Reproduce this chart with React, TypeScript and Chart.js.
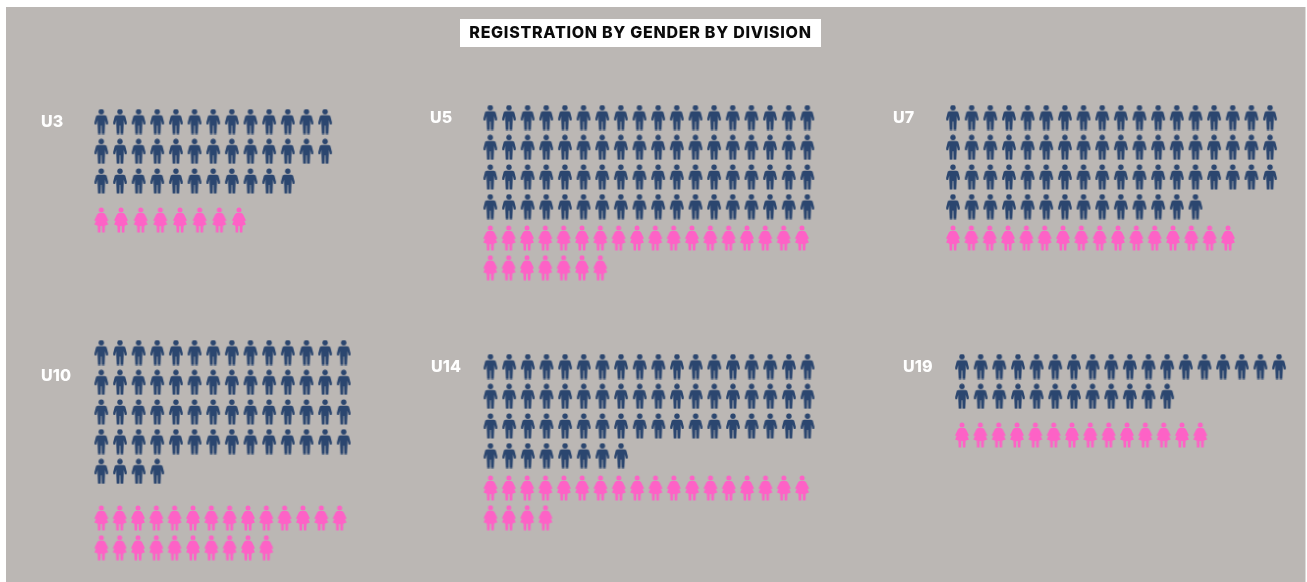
import React, { useEffect, useRef } from "react";
import { Chart, registerables } from "chart.js";

Chart.register(...registerables);

// ---- data ----
const titleText = "REGISTRATION BY GENDER BY DIVISION";
const divisions = ["U3", "U5", "U7", "U10", "U14", "U19"];
const boys = [37, 72, 68, 60, 62, 30];
const girls = [8, 25, 16, 24, 22, 14];
const boysPerRow = [13, 18, 18, 14, 18, 18];
const girlsPerRow = [8, 18, 18, 14, 18, 18];

// ---- layout (axis units, one unit is one pixel of the canvas) ----
const originX = [101.3, 490.3, 953, 101.3, 490.5, 962];
const boyTop = [121.5, 117.5, 117.5, 352.5, 366.5, 366.5];
const girlTop = [220, 238, 238, 518, 488, 435];
const girlPitch = [19.67, 18.33, 18.33, 18.33, 18.33, 18.33];
const boyPitch = 18.65;
const rowPitch = 29.7;
const labelX = [41, 430, 893, 41, 431, 903];
const labelY = [122, 118, 118, 376, 367, 367];

const BG = "#bbb7b4";
const NAVY = "#2b466f";
const PINK = "#fd62c6";

function icon(color: string, kind: "m" | "f") {
  const c = document.createElement("canvas");
  c.width = 16;
  c.height = 26;
  const g = c.getContext("2d")!;
  g.translate(8, 0.5);
  g.fillStyle = color;
  g.beginPath();
  if (kind === "m") {
    g.arc(0, 2.7, 2.7, 0, Math.PI * 2);
    g.fill();
    g.beginPath();
    const pts = [
      [-3.4, 6.2], [3.4, 6.2], [5.2, 7], [6.9, 13.6], [6.6, 15.4], [4.8, 15.4], [3.8, 11.2],
      [3.7, 15.5], [3.3, 25], [0.55, 25], [0.35, 16.5], [-0.35, 16.5], [-0.55, 25], [-3.3, 25],
      [-3.7, 15.5], [-3.8, 11.2], [-4.8, 15.4], [-6.6, 15.4], [-6.9, 13.6], [-5.2, 7],
    ];
    pts.forEach(([x, y], i) => (i ? g.lineTo(x, y) : g.moveTo(x, y)));
    g.closePath();
    g.fill();
  } else {
    g.arc(0, 2.6, 2.5, 0, Math.PI * 2);
    g.fill();
    g.beginPath();
    const pts = [
      [-2.5, 5.6], [2.5, 5.6], [4, 6.8], [6.9, 12.8], [5.9, 13.8], [4.9, 12.6],
      [6.9, 17], [3.6, 18.2], [3.4, 25], [0.9, 25], [0.7, 18.4], [-0.7, 18.4], [-0.9, 25], [-3.4, 25],
      [-3.6, 18.2], [-6.9, 17], [-4.9, 12.6], [-5.9, 13.8], [-6.9, 12.8], [-4, 6.8],
    ];
    pts.forEach(([x, y], i) => (i ? g.lineTo(x, y) : g.moveTo(x, y)));
    g.closePath();
    g.fill();
  }
  return c;
}

function grid(count: number, perRow: number, x0: number, y0: number, pitch: number) {
  const out: { x: number; y: number }[] = [];
  for (let i = 0; i < count; i++) {
    out.push({ x: x0 + (i % perRow) * pitch, y: y0 + Math.floor(i / perRow) * rowPitch });
  }
  return out;
}

const FONT = "Inter, 'Open Sans', sans-serif";

const backdrop = {
  id: "backdrop",
  beforeDraw(chart: any) {
    const { ctx } = chart;
    ctx.fillStyle = "#ffffff";
    ctx.fillRect(0, 0, 1307, 582);
    ctx.fillStyle = BG;
    ctx.fillRect(6, 7, 1299.5, 575);
    ctx.fillStyle = "#ffffff";
    ctx.fillRect(460, 19, 361, 28);
    ctx.letterSpacing = "0.72px";
  },
  afterDraw(chart: any) {
    const { ctx, scales } = chart;
    ctx.save();
    ctx.fillStyle = "#ffffff";
    ctx.font = `800 16px ${FONT}`;
    ctx.textBaseline = "middle";
    ctx.textAlign = "left";
    ctx.letterSpacing = "0.2px";
    divisions.forEach((d, i) => {
      ctx.fillText(d, scales.x.getPixelForValue(labelX[i]), scales.y.getPixelForValue(labelY[i]));
    });
    ctx.restore();
  },
};

export default function App() {
  const ref = useRef<HTMLCanvasElement>(null);
  useEffect(() => {
    const man = icon(NAVY, "m");
    const woman = icon(PINK, "f");
    const datasets: any[] = [];
    divisions.forEach((d, i) => {
      datasets.push({
        label: `${d} boys`,
        data: grid(boys[i], boysPerRow[i], originX[i], boyTop[i], boyPitch),
        pointStyle: man,
        pointRadius: 7,
        showLine: false,
        clip: false,
      });
      datasets.push({
        label: `${d} girls`,
        data: grid(girls[i], girlsPerRow[i], originX[i], girlTop[i], girlPitch[i]),
        pointStyle: woman,
        pointRadius: 7,
        showLine: false,
        clip: false,
      });
    });
    const chart = new Chart(ref.current!, {
      type: "scatter",
      data: { datasets },
      options: {
        animation: false,
        responsive: false,
        layout: { autoPadding: false, padding: { left: 0, right: 26, top: 0, bottom: 0 } },
        scales: {
          x: { type: "linear", display: false, min: 0, max: 1281 },
          y: { type: "linear", display: false, min: 47, max: 582, reverse: true },
        },
        plugins: {
          legend: { display: false },
          tooltip: { enabled: false },
          title: {
            display: true,
            text: titleText,
            color: "#0b0b0b",
            font: { family: FONT, size: 16, weight: "800", lineHeight: 28 / 16 },
            padding: { top: 19, bottom: 0 },
          },
        },
      },
      plugins: [backdrop],
    } as any);
    return () => chart.destroy();
  }, []);
  return (
    <div style={{ position: "absolute", left: 0, top: 0, width: 1307, height: 582, overflow: "hidden" }}>
      <canvas ref={ref} width={1307} height={582} style={{ display: "block", filter: "blur(0.4px)" }} />
    </div>
  );
}
